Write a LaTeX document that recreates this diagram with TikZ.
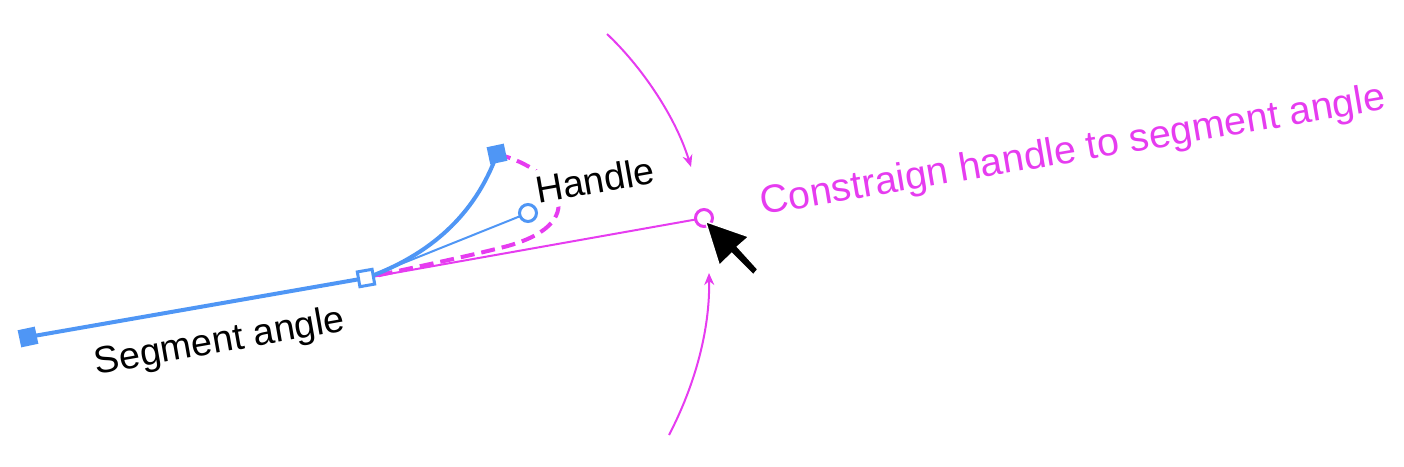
\documentclass[tikz,border=0pt]{standalone}
\usepackage{fontspec}
\setmainfont{Liberation Sans}
\usetikzlibrary{arrows.meta}
\definecolor{segblue}{HTML}{4F96F5}
\definecolor{magent}{HTML}{E63CF0}
\tikzset{
  x=1pt,y=-1pt,
  solidsq/.style={rectangle,fill=segblue,minimum size=17.5pt,inner sep=0pt,rotate=12},
  hollowsq/.style={rectangle,draw=segblue,fill=white,line width=3pt,minimum size=15pt,inner sep=0pt,rotate=10},
  handlept/.style={circle,draw=segblue,fill=white,line width=3pt,minimum size=17pt,inner sep=0pt},
  targetpt/.style={circle,draw=magent,fill=white,line width=3pt,minimum size=17pt,inner sep=0pt},
  seg/.style={draw=segblue,line width=4pt},
  thinpink/.style={draw=magent,line width=2pt},
  pinkarrow/.style={thinpink,-{Stealth[length=12pt,width=10pt]}},
  dashpink/.style={draw=magent,line width=4pt,dash pattern=on 14pt off 7pt},
  lab/.style={inner sep=1pt,font=\fontsize{37.7}{38}\selectfont,text=black,rotate=10},
}
\begin{document}
\begin{tikzpicture}
\useasboundingbox (0,0) rectangle (1404,466);
\coordinate (a1s) at (607,34);
\coordinate (a1e) at (691,167);
\coordinate (a2s) at (669,435);
\coordinate (a2e) at (709,273);
\coordinate (p0) at (366,278);
\coordinate (p1) at (497,154);
\coordinate (p2) at (28,337);
% dashed curve
\draw[dashpink] (p1) .. controls (560,170) and (595,225) .. (500,248) .. controls (460,258) and (420,266) .. (p0);
\node[lab,fill=white,inner xsep=3pt,inner ysep=6pt] (hl) at (595,180) {Handle};
% thin lines
\draw[thinpink] (p0) -- (704,218);
\draw[draw=segblue,line width=2pt] (p0) -- (528,213);
\draw[seg] (p0) .. controls (430,255) and (475,215) .. (p1);
\draw[seg] (p2) -- (p0);
\node[solidsq] (n1) at (p2) {};
\node[solidsq] (n2) at (p1) {};
\node[hollowsq] (n3) at (p0) {};
\node[handlept] (n4) at (528,213) {};
\node[targetpt] (n5) at (704,218) {};
\draw[pinkarrow] (a1s) .. controls (640,65) and (675,115) .. (a1e);
\draw[pinkarrow] (a2s) .. controls (695,385) and (710,330) .. (a2e);
\fill[black,draw=white,line width=1.5pt] (705.5,221.5) -- (749,236.7) -- (737.5,246.7) -- (758,269.3) -- (753.3,275) -- (731.7,253.5) -- (719.3,265.5) -- cycle;
\node[lab] (sl) at (220,343) {Segment angle};
\node[inner sep=1pt,text=magent,rotate=9.6,font=\fontsize{39.4}{40}\selectfont] (cl) at (1073,152) {Constraign handle to segment angle};
\end{tikzpicture}
\end{document}
